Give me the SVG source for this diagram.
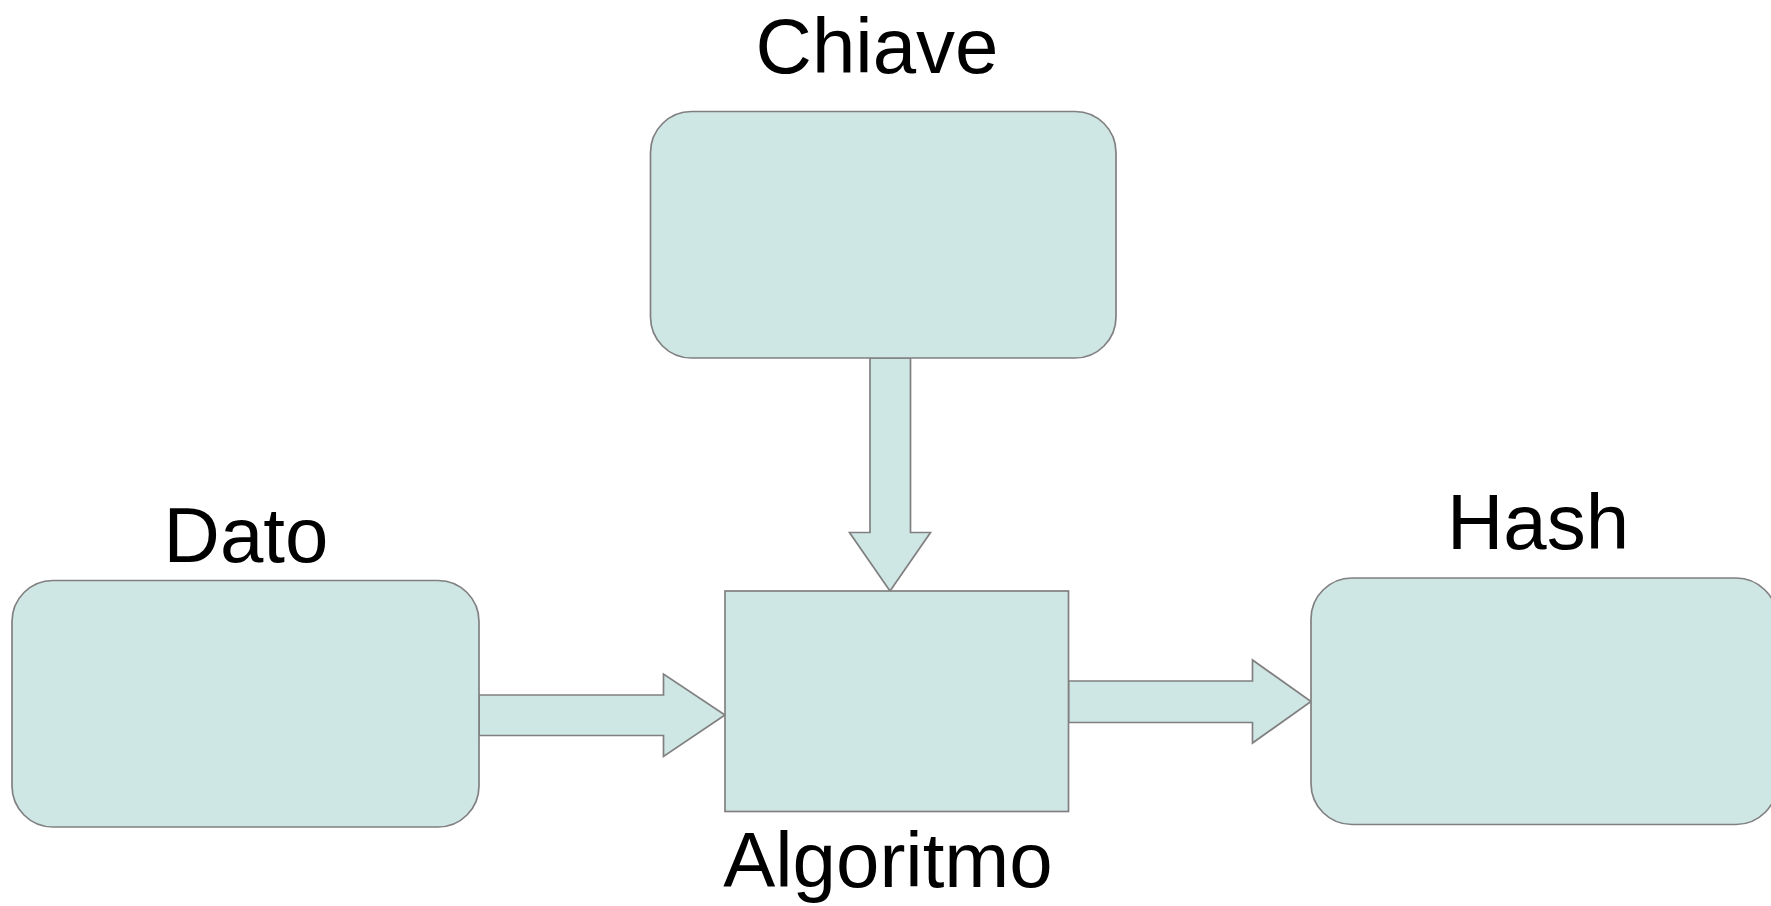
<svg xmlns="http://www.w3.org/2000/svg" width="1771" height="906" viewBox="0 0 1771 906">
<style>
.shape{fill:#cfe7e4;stroke:#808080;stroke-width:1.7}
.lbl{font-family:"Liberation Sans",Arial,sans-serif;font-size:78px;fill:#000;text-anchor:middle}
</style>
<rect width="1771" height="906" fill="#fff"/>
<g id="connectors">
<polygon class="shape" points="870,358 910.5,358 910.5,532.5 930.5,532.5 890,591 849.5,532.5 870,532.5"/>
<polygon class="shape" points="479,695 663.5,695 663.5,674 725,715 663.5,756.5 663.5,735.5 479,735.5"/>
<polygon class="shape" points="1068.5,681 1252.5,681 1252.5,660 1311,701.5 1252.5,743 1252.5,722.5 1068.5,722.5"/>
</g>
<g id="chiave">
<rect class="shape" x="650.5" y="111.5" width="465.5" height="246.5" rx="41" ry="41"/>
<text class="lbl" x="877" y="72.5">Chiave</text>
</g>
<g id="dato">
<rect class="shape" x="12" y="580.5" width="467" height="246.5" rx="41" ry="41"/>
<text class="lbl" x="246" y="561.5">Dato</text>
</g>
<g id="algoritmo">
<rect class="shape" x="725" y="591" width="343.5" height="220.5"/>
<text class="lbl" x="888" y="887">Algoritmo</text>
</g>
<g id="hash">
<rect class="shape" x="1311" y="578" width="466" height="246.5" rx="41" ry="41"/>
<text class="lbl" x="1538" y="549">Hash</text>
</g>
</svg>
